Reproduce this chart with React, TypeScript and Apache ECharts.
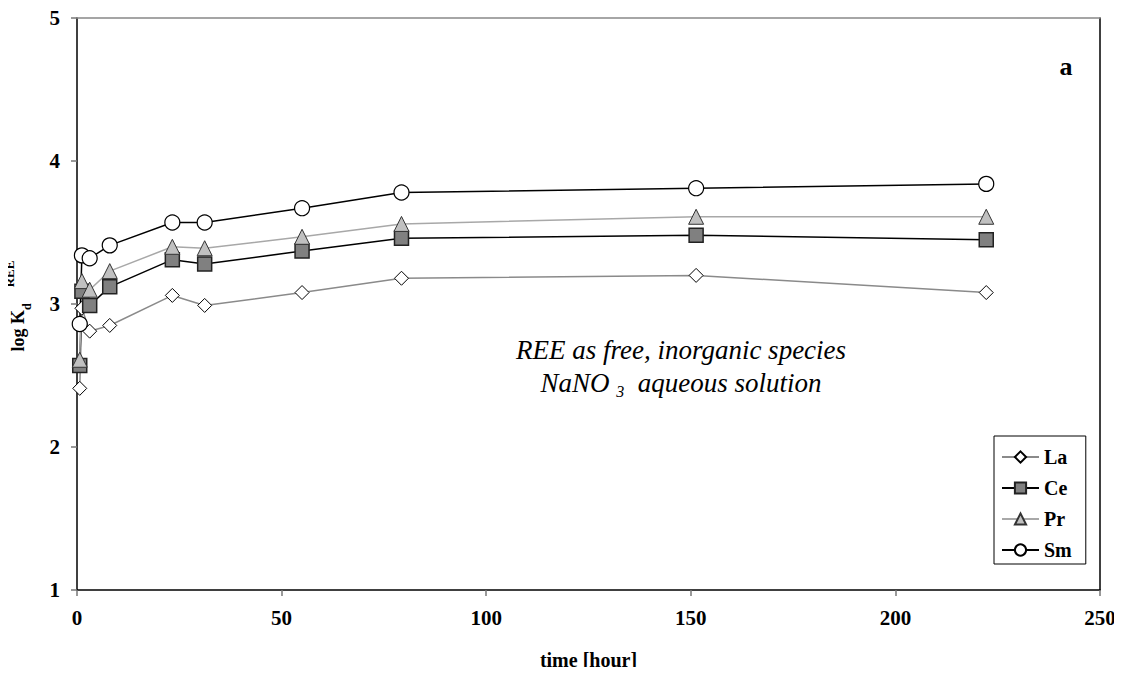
import React, { useEffect, useRef } from 'react';
import * as echarts from 'echarts';

const times = [0.67, 1.2, 3.1, 8.0, 23.3, 31.2, 55.0, 79.3, 151.3, 222.2];
const laValues = [2.41, 2.97, 2.81, 2.85, 3.06, 2.99, 3.08, 3.18, 3.2, 3.08];
const ceValues = [2.57, 3.09, 2.99, 3.12, 3.31, 3.28, 3.37, 3.46, 3.48, 3.45];
const prValues = [2.61, 3.16, 3.1, 3.23, 3.4, 3.39, 3.47, 3.56, 3.61, 3.61];
const smValues = [2.86, 3.34, 3.32, 3.41, 3.57, 3.57, 3.67, 3.78, 3.81, 3.84];
const xTicks = [0, 50, 100, 150, 200, 250];
const yTicks = [1, 2, 3, 4, 5];

const FONT = '"Liberation Serif", "Times New Roman", serif';

const pairs = (vals: number[]) => times.map((t, i) => [t, vals[i]]);

export default function App() {
  const ref = useRef<HTMLDivElement>(null);
  useEffect(() => {
    if (!ref.current) return;
    const chart = echarts.init(ref.current, undefined, { renderer: 'svg' });
    const axisLabel = { fontFamily: FONT, fontWeight: 'bold' as const, fontSize: 21, color: '#000' };
    chart.setOption({
      animation: false,
      backgroundColor: '#fff',
      textStyle: { fontFamily: FONT },
      grid: { left: 77, right: 22, top: 18, bottom: 85, containLabel: false },
      xAxis: [
        {
          type: 'value',
          min: xTicks[0],
          max: xTicks[xTicks.length - 1],
          interval: 50,
          axisLine: { show: true, onZero: false, lineStyle: { color: '#000', width: 1.5 } },
          axisTick: { show: true, length: 6, lineStyle: { color: '#777', width: 1.5 } },
          axisLabel: { ...axisLabel, margin: 17 },
          splitLine: { show: false },
          name: 'time [hour]',
          nameLocation: 'middle',
          nameGap: 60,
          nameTextStyle: { fontFamily: FONT, fontWeight: 'bold', fontSize: 20, color: '#000' },
        },
        {
          type: 'value',
          position: 'top',
          min: 0,
          max: 250,
          axisLine: { show: true, onZero: false, lineStyle: { color: '#888', width: 1.5 } },
          axisTick: { show: false },
          axisLabel: { show: false },
          splitLine: { show: false },
        },
      ],
      yAxis: [
        {
          type: 'value',
          min: yTicks[0],
          max: yTicks[yTicks.length - 1],
          interval: 1,
          axisLine: { show: true, onZero: false, lineStyle: { color: '#000', width: 1.5 } },
          axisTick: { show: true, length: 6, lineStyle: { color: '#777', width: 1.5 } },
          axisLabel: { ...axisLabel, margin: 17 },
          splitLine: { show: false },
        },
        {
          type: 'value',
          position: 'right',
          min: 1,
          max: 5,
          axisLine: { show: true, onZero: false, lineStyle: { color: '#000', width: 1.5 } },
          axisTick: { show: false },
          axisLabel: { show: false },
          splitLine: { show: false },
        },
      ],
      legend: {
        orient: 'vertical',
        left: 994,
        top: 436,
        padding: [11, 14, 4, 7],
        itemWidth: 37,
        itemHeight: 14,
        itemGap: 11,
        backgroundColor: '#fff',
        borderColor: '#000',
        borderWidth: 1,
        textStyle: { fontFamily: FONT, fontWeight: 'bold', fontSize: 20, lineHeight: 14, color: '#000' },
        data: ['La', 'Ce', 'Pr', 'Sm'],
      },
      series: [
        {
          name: 'La',
          type: 'line',
          data: pairs(laValues),
          symbol: 'diamond',
          symbolSize: 14,
          lineStyle: { color: '#8a8a8a', width: 1.5 },
          itemStyle: { color: '#fff', borderColor: '#000', borderWidth: 1 },
        },
        {
          name: 'Ce',
          type: 'line',
          data: pairs(ceValues),
          symbol: 'rect',
          symbolSize: 14,
          lineStyle: { color: '#000', width: 1.5 },
          itemStyle: { color: '#808080', borderColor: '#222', borderWidth: 1.5 },
        },
        {
          name: 'Pr',
          type: 'line',
          data: pairs(prValues),
          symbol: 'triangle',
          symbolSize: 15,
          lineStyle: { color: '#a8a8a8', width: 1.5 },
          itemStyle: { color: '#c0c0c0', borderColor: '#333', borderWidth: 1 },
        },
        {
          name: 'Sm',
          type: 'line',
          data: pairs(smValues),
          symbol: 'circle',
          symbolSize: 15,
          lineStyle: { color: '#000', width: 1.5 },
          itemStyle: { color: '#fff', borderColor: '#000', borderWidth: 1.2 },
        },
      ],
      graphic: [
        {
          type: 'text',
          x: 18,
          y: 306,
          rotation: Math.PI / 2,
          style: {
            text: '{a|log K}{b|d}{c|REE}',
            align: 'center',
            verticalAlign: 'middle',
            fill: '#000',
            rich: {
              a: { fontFamily: FONT, fontWeight: 'bold', fontSize: 18, lineHeight: 30, verticalAlign: 'middle' },
              b: { fontFamily: FONT, fontWeight: 'bold', fontSize: 12, lineHeight: 30, verticalAlign: 'bottom' },
              c: { fontFamily: FONT, fontWeight: 'bold', fontSize: 13, lineHeight: 30, verticalAlign: 'top', padding: [0, 0, 0, 16] },
            },
          },
        },
        {
          type: 'text',
          x: 1066,
          y: 66,
          style: {
            text: 'a',
            fontFamily: FONT,
            fontWeight: 'bold',
            fontSize: 26,
            fill: '#000',
            align: 'center',
            verticalAlign: 'middle',
          },
        },
        {
          type: 'text',
          x: 681,
          y: 350,
          style: {
            text: 'REE as free, inorganic species',
            fontFamily: FONT,
            fontStyle: 'italic',
            fontSize: 27,
            fill: '#000',
            align: 'center',
            verticalAlign: 'middle',
          },
        },
        {
          type: 'text',
          x: 681,
          y: 383,
          style: {
            text: '{m|NaNO }{s|3}{m|  aqueous solution}',
            align: 'center',
            verticalAlign: 'middle',
            fill: '#000',
            rich: {
              m: { fontFamily: FONT, fontStyle: 'italic', fontSize: 27, lineHeight: 32, verticalAlign: 'middle' },
              s: { fontFamily: FONT, fontStyle: 'italic', fontSize: 16, lineHeight: 32, verticalAlign: 'bottom' },
            },
          },
        },
      ],
    });
    return () => chart.dispose();
  }, []);
  return <div ref={ref} style={{ width: 1122, height: 675, margin: -8 }} />;
}
